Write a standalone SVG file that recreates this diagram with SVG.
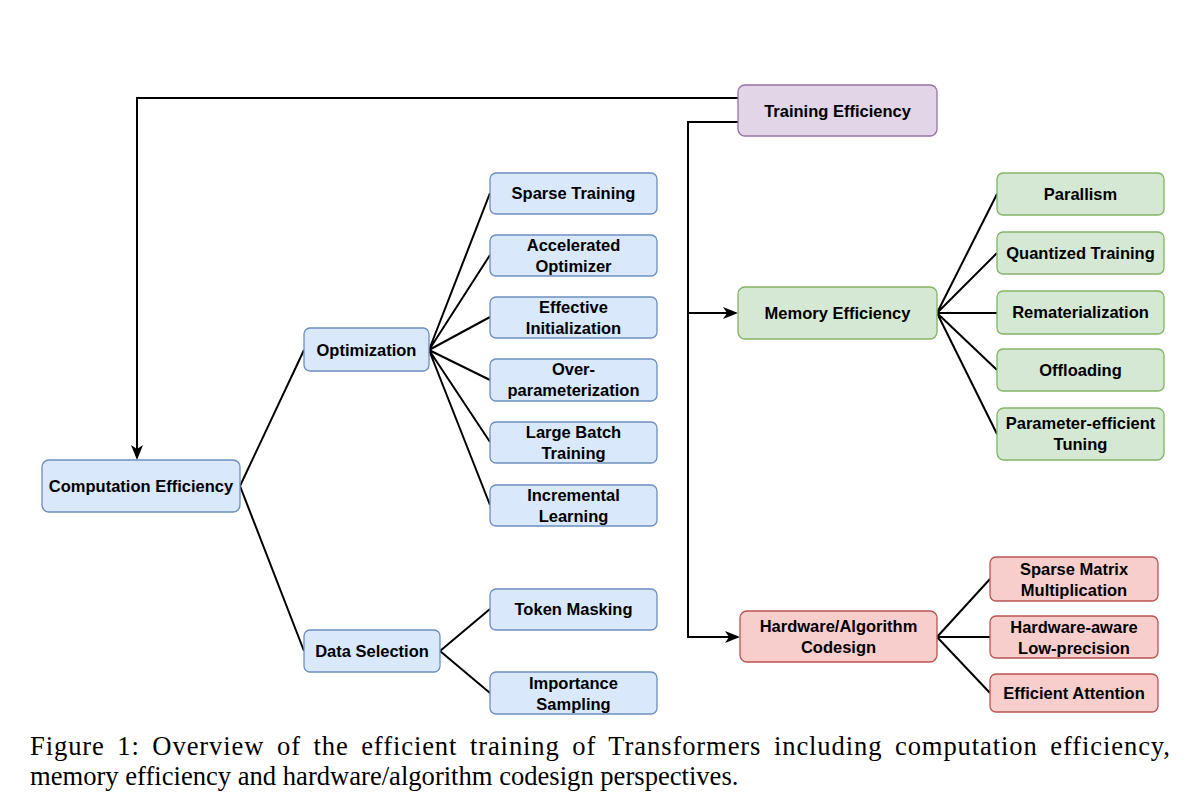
<svg xmlns="http://www.w3.org/2000/svg" width="1200" height="808" viewBox="0 0 1200 808">
<defs>
<style>
.n rect{stroke-width:1.3}
.blue rect{fill:#dae8fc;stroke:#6c8ebf}
.green rect{fill:#d5e8d4;stroke:#82b366}
.red rect{fill:#f8cecc;stroke:#b85450}
.purple rect{fill:#e1d5e7;stroke:#9673a6}
.n text{font-family:"Liberation Sans",Arial,sans-serif;font-weight:bold;font-size:16.5px;fill:#000;text-anchor:middle}
.c path{fill:none;stroke:#000;stroke-width:2}
.cap{font-family:"Liberation Serif","Times New Roman",serif;font-size:26.6px;fill:#000}
</style>
<marker id="ar" markerUnits="userSpaceOnUse" markerWidth="16" markerHeight="14" refX="9" refY="6" orient="auto">
<path d="M0,0 L15,6 L0,12 L4,6 Z" fill="#000"/>
</marker>
</defs>
<rect width="1200" height="808" fill="#fff"/>

<g id="connectors" class="c">
<path d="M738,98 H137 V454" marker-end="url(#ar)"/>
<path d="M738,122 H688 V637 H734" marker-end="url(#ar)"/>
<path d="M688,313 H732" marker-end="url(#ar)"/>
<path d="M240,486 L304,350 M240,486 L304,651"/>
<path d="M429,350 L490,193 M429,350 L490,255 M429,350 L490,317 M429,350 L490,380 M429,350 L490,442 M429,350 L490,505"/>
<path d="M440,651 L490,609 M440,651 L490,693"/>
<path d="M937,313 L997,194 M937,313 L997,253 M937,313 L997,313 M937,313 L997,370 M937,313 L997,434"/>
<path d="M937,637 L990,579 M937,637 L990,637 M937,637 L990,693"/>
</g>

<g id="training-efficiency" class="n purple"><rect x="738" y="85" width="199" height="51" rx="7"/><text x="837.5" y="117">Training Efficiency</text></g>
<g id="computation-efficiency" class="n blue"><rect x="42" y="460" width="198" height="52" rx="7"/><text x="141" y="492">Computation Efficiency</text></g>
<g id="optimization" class="n blue"><rect x="304" y="328" width="125" height="43" rx="6"/><text x="366.5" y="356">Optimization</text></g>
<g id="data-selection" class="n blue"><rect x="304" y="630" width="136" height="42" rx="6"/><text x="372" y="657">Data Selection</text></g>

<g id="sparse-training" class="n blue"><rect x="490" y="173" width="167" height="41" rx="6"/><text x="573.5" y="199">Sparse Training</text></g>
<g id="accelerated-optimizer" class="n blue"><rect x="490" y="235" width="167" height="41" rx="6"/><text x="573.5" y="251">Accelerated</text><text x="573.5" y="272">Optimizer</text></g>
<g id="effective-initialization" class="n blue"><rect x="490" y="297" width="167" height="41" rx="6"/><text x="573.5" y="313">Effective</text><text x="573.5" y="334">Initialization</text></g>
<g id="over-parameterization" class="n blue"><rect x="490" y="359" width="167" height="42" rx="6"/><text x="573.5" y="375">Over-</text><text x="573.5" y="396">parameterization</text></g>
<g id="large-batch-training" class="n blue"><rect x="490" y="422" width="167" height="41" rx="6"/><text x="573.5" y="438">Large Batch</text><text x="573.5" y="459">Training</text></g>
<g id="incremental-learning" class="n blue"><rect x="490" y="485" width="167" height="41" rx="6"/><text x="573.5" y="501">Incremental</text><text x="573.5" y="522">Learning</text></g>
<g id="token-masking" class="n blue"><rect x="490" y="589" width="167" height="41" rx="6"/><text x="573.5" y="615">Token Masking</text></g>
<g id="importance-sampling" class="n blue"><rect x="490" y="672" width="167" height="42" rx="6"/><text x="573.5" y="689">Importance</text><text x="573.5" y="710">Sampling</text></g>

<g id="memory-efficiency" class="n green"><rect x="738" y="287" width="199" height="52" rx="7"/><text x="837.5" y="319">Memory Efficiency</text></g>
<g id="parallism" class="n green"><rect x="997" y="173" width="167" height="42" rx="6"/><text x="1080.5" y="200">Parallism</text></g>
<g id="quantized-training" class="n green"><rect x="997" y="232" width="167" height="42" rx="6"/><text x="1080.5" y="259">Quantized Training</text></g>
<g id="rematerialization" class="n green"><rect x="997" y="291" width="167" height="43" rx="6"/><text x="1080.5" y="318">Rematerialization</text></g>
<g id="offloading" class="n green"><rect x="997" y="349" width="167" height="42" rx="6"/><text x="1080.5" y="376">Offloading</text></g>
<g id="parameter-efficient-tuning" class="n green"><rect x="997" y="408" width="167" height="52" rx="7"/><text x="1080.5" y="429">Parameter-efficient</text><text x="1080.5" y="450">Tuning</text></g>

<g id="hardware-algorithm-codesign" class="n red"><rect x="740" y="611" width="197" height="51" rx="7"/><text x="838.5" y="632">Hardware/Algorithm</text><text x="838.5" y="653">Codesign</text></g>
<g id="sparse-matrix-multiplication" class="n red"><rect x="990" y="557" width="168" height="44" rx="6"/><text x="1074" y="575">Sparse Matrix</text><text x="1074" y="596">Multiplication</text></g>
<g id="hardware-aware-low-precision" class="n red"><rect x="990" y="616" width="168" height="42" rx="6"/><text x="1074" y="633">Hardware-aware</text><text x="1074" y="654">Low-precision</text></g>
<g id="efficient-attention" class="n red"><rect x="990" y="674" width="168" height="38" rx="6"/><text x="1074" y="699">Efficient Attention</text></g>

<text class="cap" x="30" y="755" word-spacing="5" textLength="1140" lengthAdjust="spacing">Figure 1:  Overview of the efficient training of Transformers including computation efficiency,</text>
<text class="cap" x="30" y="785">memory efficiency and hardware/algorithm codesign perspectives.</text>
</svg>
